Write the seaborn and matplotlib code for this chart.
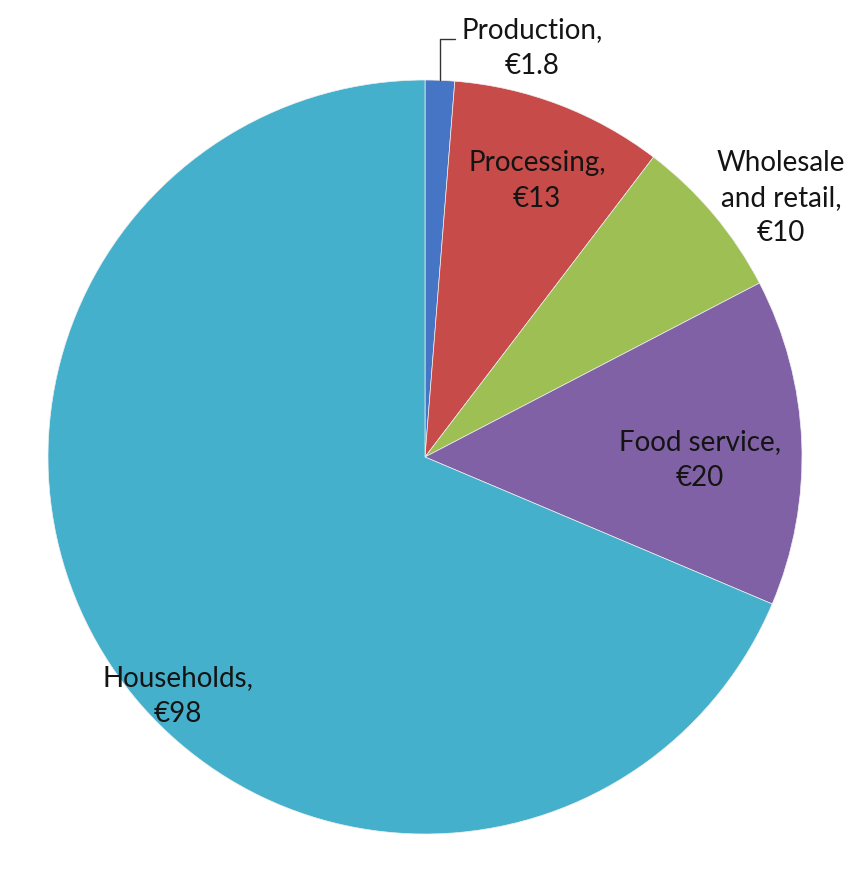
import numpy as np
import matplotlib
matplotlib.use("Agg")
import matplotlib.pyplot as plt
import seaborn as sns

categories = ["Production", "Processing", "Wholesale\nand retail", "Food service", "Households"]
values = [1.8, 13, 10, 20, 98]
value_labels = ["€1.8", "€13", "€10", "€20", "€98"]
colors = ["#4775C6", "#C64B49", "#9DBF54", "#8061A6", "#45B0CB"]

sns.set_theme(style="white")
plt.rcParams["font.family"] = ["Lato", "DejaVu Sans"]

fig = plt.figure(figsize=(8.6, 8.7), dpi=100)
R = 377.0
cx, cy = 425.0, 458.0
ax = fig.add_axes([(cx - R) / 860, (870 - cy - R) / 870, 2 * R / 860, 2 * R / 870])
ax.set_axis_off()

wedges, _ = ax.pie(values, colors=colors, startangle=90, counterclock=False,
                   radius=1.0, center=(0, 0),
                   wedgeprops=dict(edgecolor="#f0f0f0", linewidth=0.5))
ax.set_xlim(-1, 1)
ax.set_ylim(-1, 1)
ax.set_aspect("auto")

def px(x, y):
    return ((x - cx) / R, (cy - y) / R)

label_pos = [(532, 48), (537, 181), (781, 198), (700, 460), (178, 696)]
txtcolor = "#141414"
for cat, vl, (lx, ly) in zip(categories, value_labels, label_pos):
    dx, dy = px(lx, ly)
    ax.text(dx, dy, f"{cat},\n{vl}", ha="center", va="center", fontsize=20,
            color=txtcolor, linespacing=1.45, clip_on=False)

# leader line for Production
w = wedges[0]
mid = np.deg2rad((w.theta1 + w.theta2) / 2)
x0, y0 = np.cos(mid), np.sin(mid)
_, ytop = px(0, 40)
xend, _ = px(455, 0)
ax.plot([x0, x0, xend], [y0, ytop, ytop], color="#333333", lw=1.0, clip_on=False)

fig.savefig("out.png", dpi=100, facecolor="white")
